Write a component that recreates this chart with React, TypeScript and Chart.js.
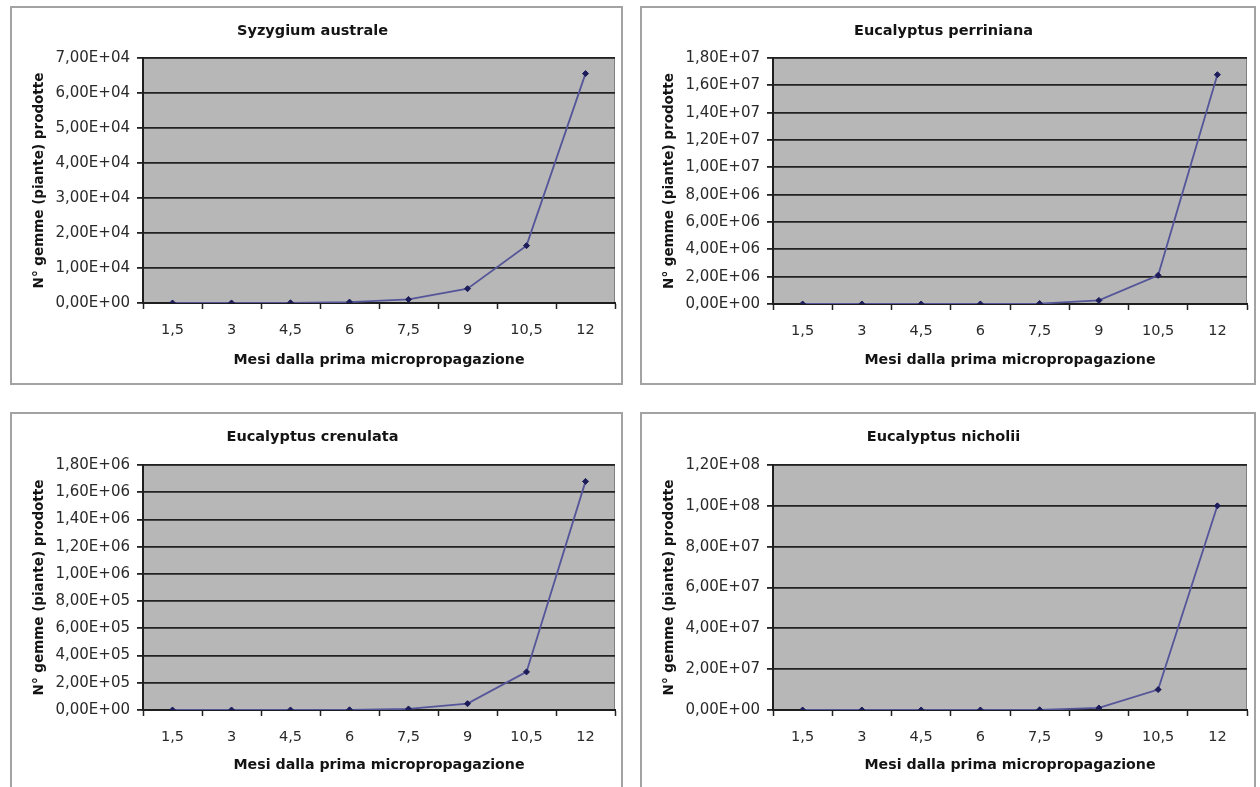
import React, { useEffect, useRef } from 'react';
import { Chart, registerables } from 'chart.js';

Chart.register(...registerables);

// ---- data ----
const months = ['1,5', '3', '4,5', '6', '7,5', '9', '10,5', '12'];

const syzygiumAustrale = [4, 16, 64, 256, 1024, 4096, 16384, 65536];
const eucalyptusPerriniana = [8, 64, 512, 4096, 32768, 262144, 2097152, 16777216];
const eucalyptusCrenulata = [6, 36, 216, 1296, 7776, 46656, 279936, 1679616];
const eucalyptusNicholii = [10, 100, 1000, 10000, 100000, 1000000, 10000000, 100000000];

const titles = ['Syzygium australe', 'Eucalyptus perriniana', 'Eucalyptus crenulata', 'Eucalyptus nicholii'];
const yAxisMax = [70000, 18000000, 1800000, 120000000];
const yAxisStep = [10000, 2000000, 200000, 20000000];

const yTitle = 'N° gemme (piante) prodotte';
const xTitle = 'Mesi dalla prima micropropagazione';

const FONT = 'DejaVu Sans';

function excelSci(v: number): string {
  if (Math.abs(v) < 1e-12) return '0,00E+00';
  let e = Math.floor(Math.log10(Math.abs(v)) + 1e-9);
  let m = v / Math.pow(10, e);
  if (Math.abs(m) >= 9.995) {
    e += 1;
    m = m / 10;
  }
  const ms = m.toFixed(2).replace('.', ',');
  const es = (e < 0 ? '-' : '+') + String(Math.abs(e)).padStart(2, '0');
  return ms + 'E' + es;
}

const plotBg = {
  id: 'plotBg',
  beforeDraw(chart: any) {
    const { ctx, chartArea: a } = chart;
    ctx.save();
    ctx.fillStyle = '#b7b7b7';
    ctx.fillRect(a.left, a.top, a.right - a.left, a.bottom - a.top);
    ctx.strokeStyle = '#808080';
    ctx.lineWidth = 1;
    ctx.strokeRect(a.left + 0.5, a.top + 0.5, a.right - a.left - 1, a.bottom - a.top - 1);
    ctx.restore();
  },
};

type PanelProps = {
  x: number;
  y: number;
  w: number;
  h: number;
  areaTop: number;
  areaBottom: number;
  areaLeft: number;
  areaRight: number;
  title: string;
  values: number[];
  max: number;
  step: number;
  xTitleBottom: number;
  openBottom?: boolean;
};

function Panel(p: PanelProps) {
  const ref = useRef<HTMLCanvasElement>(null);

  useEffect(() => {
    if (!ref.current) return;
    const titleLH = 14.5 * 1.2;
    const titleCenter = 25;
    const tTop = titleCenter - titleLH / 2;
    const tBottom = p.areaTop - tTop - titleLH;
    const tickFont = 14.5;
    const xLabelCenter = 27;
    const chart = new Chart(ref.current, {
      type: 'line',
      data: {
        labels: months,
        datasets: [
          {
            data: p.values,
            borderColor: '#55559a',
            borderWidth: 1.8,
            pointStyle: 'rectRot',
            pointRadius: 3,
            pointBackgroundColor: '#1c1c5a',
            pointBorderColor: '#1c1c5a',
            pointBorderWidth: 1,
            tension: 0,
            fill: false,
          },
        ],
      },
      options: {
        animation: false,
        responsive: false,
        devicePixelRatio: 1,
        layout: {
          padding: { left: 0, top: 0, right: p.w - p.areaRight, bottom: 0 },
        },
        plugins: {
          legend: { display: false },
          tooltip: { enabled: false },
          title: {
            display: true,
            text: p.title,
            color: '#141414',
            font: { family: FONT, size: 14.5, weight: 'bold' },
            padding: { top: tTop, bottom: tBottom },
          },
        },
        scales: {
          x: {
            type: 'category',
            offset: true,
            grid: {
              display: true,
              offset: true,
              drawOnChartArea: false,
              drawTicks: true,
              tickLength: 6,
              tickColor: '#222',
              tickWidth: 1.5,
            },
            border: { display: true, color: '#1e1e1e', width: 2 },
            ticks: {
              color: '#2a2a2a',
              font: { family: FONT, size: tickFont },
              padding: xLabelCenter - 6 - (tickFont * 1.2) / 2,
              maxRotation: 0,
              autoSkip: false,
            },
            title: {
              display: true,
              text: xTitle,
              color: '#141414',
              font: { family: FONT, size: 14.2, weight: 'bold' },
              padding: { top: 0, bottom: p.xTitleBottom },
            },
            afterFit: (s: any) => {
              s.height = p.h - p.areaBottom;
            },
          },
          y: {
            type: 'linear',
            min: 0,
            max: p.max,
            grid: {
              display: true,
              color: '#222222',
              lineWidth: 1.8,
              drawTicks: true,
              tickLength: 6,
              tickColor: '#222',
            },
            border: { display: true, color: '#1e1e1e', width: 2 },
            ticks: {
              stepSize: p.step,
              color: '#2a2a2a',
              font: { family: FONT, size: 15 },
              padding: 7,
              callback: (v: any) => excelSci(Number(v)),
            },
            title: {
              display: true,
              text: yTitle,
              color: '#141414',
              font: { family: FONT, size: 13.5, weight: 'bold' },
              padding: { top: 21, bottom: 0 },
            },
            afterFit: (s: any) => {
              s.width = p.areaLeft;
            },
          },
        },
      },
      plugins: [plotBg],
    } as any);
    return () => chart.destroy();
  }, []);

  return (
    <>
      <canvas
        ref={ref}
        width={p.w}
        height={p.h}
        style={{
          position: 'absolute',
          left: p.x,
          top: p.y,
          width: p.w,
          height: p.h,
          background: '#ffffff',
        }}
      />
      <div
        style={{
          position: 'absolute',
          left: p.x,
          top: p.y,
          width: p.w,
          height: p.h,
          boxSizing: 'border-box',
          border: '2px solid #a3a3a3',
          borderBottom: p.openBottom ? 'none' : '2px solid #a3a3a3',
          pointerEvents: 'none',
        }}
      />
    </>
  );
}

export default function App() {
  return (
    <div
      style={{
        position: 'absolute',
        left: 0,
        top: 0,
        width: 1260,
        height: 787,
        overflow: 'hidden',
        background: '#ffffff',
      }}
    >
      <Panel
        x={10} y={6} w={613} h={379}
        areaLeft={133} areaRight={605} areaTop={52} areaBottom={297}
        title={titles[0]} values={syzygiumAustrale} max={yAxisMax[0]} step={yAxisStep[0]}
        xTitleBottom={16.5}
      />
      <Panel
        x={640} y={6} w={616} h={379}
        areaLeft={133} areaRight={607} areaTop={52} areaBottom={298}
        title={titles[1]} values={eucalyptusPerriniana} max={yAxisMax[1]} step={yAxisStep[1]}
        xTitleBottom={16.5}
      />
      <Panel
        x={10} y={412} w={613} h={375}
        areaLeft={133} areaRight={605} areaTop={53} areaBottom={298}
        title={titles[2]} values={eucalyptusCrenulata} max={yAxisMax[2]} step={yAxisStep[2]}
        xTitleBottom={13.5} openBottom
      />
      <Panel
        x={640} y={412} w={616} h={375}
        areaLeft={133} areaRight={607} areaTop={53} areaBottom={298}
        title={titles[3]} values={eucalyptusNicholii} max={yAxisMax[3]} step={yAxisStep[3]}
        xTitleBottom={13.5} openBottom
      />
    </div>
  );
}
